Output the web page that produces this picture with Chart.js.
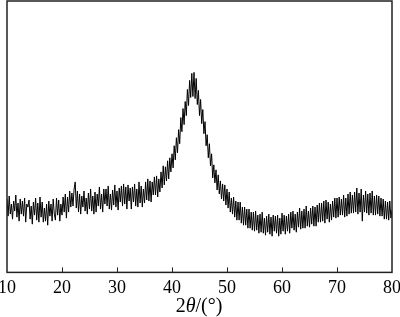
<!DOCTYPE html>
<html>
<head>
<meta charset="utf-8">
<script src="https://cdn.jsdelivr.net/npm/chart.js@4/dist/chart.umd.min.js"></script>
<style>
  html, body { margin: 0; padding: 0; background: #fff; }
  #wrap { position: relative; width: 400px; height: 317px; }
  #axisTitle {
    position: absolute; left: 0; top: 294px; width: 398px; text-align: center;
    font: 20px "Liberation Serif", "DejaVu Serif", serif; color: #000;
  }
</style>
</head>
<body>
<div id="wrap">
  <canvas id="xrd" width="400" height="317"></canvas>
  <div id="axisTitle">2<i>θ</i>/(°)</div>
</div>
<script>
// XRD 图谱：2θ 从 10° 到 80°，步长 0.2°，强度为任意单位（从图上逐段读取）
const START_ANGLE = 10;
const STEP = 0.2;
const X_TICKS = [10, 20, 30, 40, 50, 60, 70, 80];

// 每行 5 个点 = 1°
const intensity = [
  73, 56, 76, 58, 68,   // 10
  53, 71, 61, 77, 55,   // 11
  69, 51, 73, 58, 71,   // 12
  56, 74, 50, 68, 65,   // 13
  72, 53, 66, 48, 70,   // 14
  57, 74, 52, 69, 50,   // 15
  75, 55, 70, 50, 64,   // 16
  51, 68, 47, 71, 56,   // 17
  68, 51, 73, 58, 52,   // 18
  74, 57, 72, 51, 68,   // 19
  57, 75, 60, 78, 54,   // 20
  75, 60, 81, 65, 79,   // 21
  66, 83, 90, 64, 81,   // 22
  60, 78, 58, 76, 65,   // 23
  81, 61, 74, 58, 79,   // 24
  63, 83, 61, 76, 58,   // 25
  80, 60, 78, 66, 85,   // 26
  63, 78, 60, 83, 68,   // 27
  83, 66, 86, 63, 78,   // 28
  62, 82, 67, 87, 65,   // 29
  81, 62, 84, 70, 86,   // 30
  66, 88, 68, 85, 63,   // 31
  87, 71, 84, 63, 85,   // 32
  70, 88, 66, 83, 65,   // 33
  90, 69, 86, 65, 83,   // 34
  69, 90, 72, 93, 71,   // 35
  91, 70, 90, 77, 95,   // 36
  77, 96, 75, 93, 80,   // 37
  100, 84, 106, 87, 105,  // 38
  91, 111, 93, 114, 100,  // 39
  118, 104, 126, 112, 134, // 40
  119, 142, 128, 154, 140, // 41
  163, 147, 170, 156, 182, // 42
  166, 191, 174, 198, 175, // 43
  199, 173, 193, 167, 181, // 44
  156, 172, 148, 162, 138, // 45
  150, 126, 137, 114, 128, // 46
  106, 118, 94, 107, 89,   // 47
  102, 82, 97, 78, 91,  // 48
  73, 88, 71, 87, 67,   // 49
  83, 64, 80, 60, 74,   // 50
  58, 75, 55, 71, 52,   // 51
  70, 52, 70, 49, 65,   // 52
  47, 65, 47, 63, 44,   // 53
  63, 44, 60, 42, 60,   // 54
  41, 61, 42, 57, 39,   // 55
  58, 40, 60, 39, 54,   // 56
  37, 56, 40, 58, 38,   // 57
  55, 36, 57, 41, 56,   // 58
  39, 57, 36, 54, 38,   // 59
  59, 41, 57, 38, 56,   // 60
  41, 58, 39, 60, 44,   // 61
  61, 42, 58, 40, 60,   // 62
  45, 64, 43, 61, 44,   // 63
  63, 44, 66, 46, 61,   // 64
  45, 64, 48, 66, 46,   // 65
  65, 46, 67, 50, 69,   // 66
  50, 69, 51, 71, 49,   // 67
  72, 53, 70, 50, 68,   // 68
  52, 71, 55, 74, 54,   // 69
  74, 55, 75, 57, 73,   // 70
  57, 77, 55, 74, 56,   // 71
  78, 58, 80, 59, 77,   // 72
  59, 80, 60, 84, 58,   // 73
  79, 60, 83, 51, 77,   // 74
  60, 81, 59, 78, 57,   // 75
  79, 59, 81, 57, 76,   // 76
  57, 77, 58, 76, 56,   // 77
  74, 56, 73, 53, 71,   // 78
  53, 70, 52, 71, 54,   // 79
  62                    // 80
];

const points = intensity.map((v, i) => ({ x: +(START_ANGLE + i * STEP).toFixed(1), y: v }));

// 外框 + 朝内的刻度线
const framePlugin = {
  id: "frame",
  afterDraw(chart) {
    const { ctx, chartArea: a } = chart;
    const xs = chart.scales.x;
    ctx.save();
    ctx.strokeStyle = "#222";
    ctx.lineWidth = 1.5;
    ctx.strokeRect(a.left, a.top, a.right - a.left, a.bottom - a.top);
    ctx.lineWidth = 1;
    ctx.beginPath();
    X_TICKS.slice(1, -1).forEach(t => {
      const px = Math.round(xs.getPixelForValue(t)) + 0.5;
      ctx.moveTo(px, a.bottom);
      ctx.lineTo(px, a.bottom - 5);
    });
    ctx.stroke();
    ctx.restore();
  }
};

new Chart(document.getElementById("xrd"), {
  type: "line",
  data: {
    datasets: [{
      data: points,
      borderColor: "#000",
      borderWidth: 1,
      pointRadius: 0,
      tension: 0
    }]
  },
  options: {
    responsive: false,
    animation: false,
    layout: { padding: { top: 1, bottom: 13, left: 0, right: 0 } },
    plugins: { legend: { display: false }, tooltip: { enabled: false } },
    scales: {
      x: {
        type: "linear",
        min: 10,
        max: 80,
        afterBuildTicks: s => { s.ticks = X_TICKS.map(v => ({ value: v })); },
        // 让首尾刻度标签可以伸出绘图区，不挤压绘图区
        afterFit: s => { s.paddingLeft = 7; s.paddingRight = 8; },
        grid: { display: false, drawTicks: false },
        border: { display: false },
        ticks: {
          padding: 5,
          color: "#000",
          maxRotation: 0,
          font: { family: "'Liberation Serif', 'DejaVu Serif', serif", size: 18 }
        }
      },
      y: {
        display: false,
        min: 0,
        max: 270
      }
    }
  },
  plugins: [framePlugin]
});
</script>
</body>
</html>
